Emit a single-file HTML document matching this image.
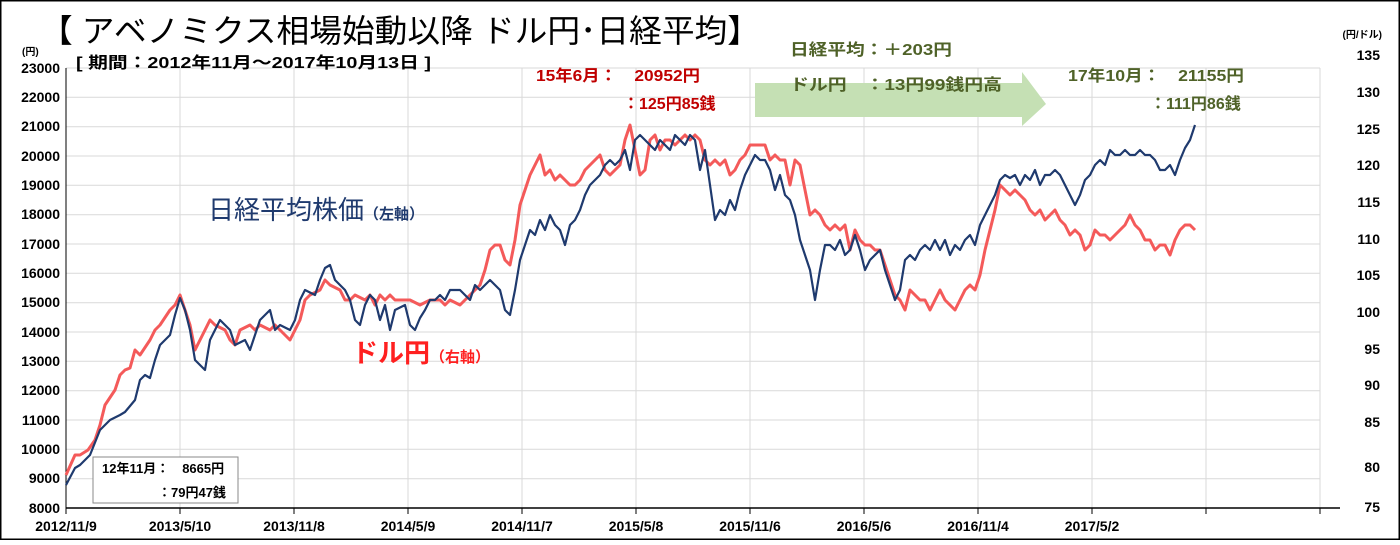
<!DOCTYPE html>
<html><head><meta charset="utf-8"><style>
body{margin:0;background:#fff}
svg text{font-family:"Liberation Sans","Noto Sans CJK JP",sans-serif}
.b{font-weight:bold}
</style></head><body>
<svg width="1400" height="540" viewBox="0 0 1400 540" xmlns="http://www.w3.org/2000/svg">
<rect x="0.5" y="0.5" width="1399" height="539" fill="#fff" stroke="#000" stroke-width="2"/>
<g stroke="#d9d9d9" stroke-width="1">
<line x1="66" y1="68" x2="1320" y2="68"/><line x1="66" y1="97.3" x2="1320" y2="97.3"/><line x1="66" y1="126.7" x2="1320" y2="126.7"/><line x1="66" y1="156" x2="1320" y2="156"/><line x1="66" y1="185.3" x2="1320" y2="185.3"/><line x1="66" y1="214.7" x2="1320" y2="214.7"/><line x1="66" y1="244" x2="1320" y2="244"/><line x1="66" y1="273.3" x2="1320" y2="273.3"/><line x1="66" y1="302.7" x2="1320" y2="302.7"/><line x1="66" y1="332" x2="1320" y2="332"/><line x1="66" y1="361.3" x2="1320" y2="361.3"/><line x1="66" y1="390.7" x2="1320" y2="390.7"/><line x1="66" y1="420" x2="1320" y2="420"/><line x1="66" y1="449.3" x2="1320" y2="449.3"/><line x1="66" y1="478.7" x2="1320" y2="478.7"/>
<line x1="180" y1="68" x2="180" y2="508"/><line x1="294" y1="68" x2="294" y2="508"/><line x1="408" y1="68" x2="408" y2="508"/><line x1="522" y1="68" x2="522" y2="508"/><line x1="636" y1="68" x2="636" y2="508"/><line x1="750" y1="68" x2="750" y2="508"/><line x1="864" y1="68" x2="864" y2="508"/><line x1="978" y1="68" x2="978" y2="508"/><line x1="1092" y1="68" x2="1092" y2="508"/><line x1="1206" y1="68" x2="1206" y2="508"/><line x1="1320" y1="68" x2="1320" y2="508"/>
</g>
<line x1="66" y1="68" x2="66" y2="508" stroke="#000"/>
<line x1="66" y1="508" x2="1340" y2="508" stroke="#000" stroke-width="1.5"/>
<g stroke="#000"><line x1="66" y1="508" x2="66" y2="514"/><line x1="180" y1="508" x2="180" y2="514"/><line x1="294" y1="508" x2="294" y2="514"/><line x1="408" y1="508" x2="408" y2="514"/><line x1="522" y1="508" x2="522" y2="514"/><line x1="636" y1="508" x2="636" y2="514"/><line x1="750" y1="508" x2="750" y2="514"/><line x1="864" y1="508" x2="864" y2="514"/><line x1="978" y1="508" x2="978" y2="514"/><line x1="1092" y1="508" x2="1092" y2="514"/><line x1="1206" y1="508" x2="1206" y2="514"/><line x1="1320" y1="508" x2="1320" y2="514"/></g>
<g class="b" font-size="14" text-anchor="end" fill="#000">
<text x="60" y="73">23000</text><text x="60" y="102">22000</text><text x="60" y="131">21000</text><text x="60" y="161">20000</text><text x="60" y="190">19000</text><text x="60" y="219">18000</text><text x="60" y="249">17000</text><text x="60" y="278">16000</text><text x="60" y="307">15000</text><text x="60" y="337">14000</text><text x="60" y="366">13000</text><text x="60" y="395">12000</text><text x="60" y="425">11000</text><text x="60" y="454">10000</text><text x="60" y="483">9000</text><text x="60" y="513">8000</text>
</g>
<text x="22" y="55" font-size="10" class="b">(円)</text>
<g class="b" font-size="14" text-anchor="end" fill="#000">
<text x="1380" y="60">135</text><text x="1380" y="97">130</text><text x="1380" y="134">125</text><text x="1380" y="170">120</text><text x="1380" y="207">115</text><text x="1380" y="244">110</text><text x="1380" y="280">105</text><text x="1380" y="317">100</text><text x="1380" y="354">95</text><text x="1380" y="390">90</text><text x="1380" y="427">85</text><text x="1380" y="472">80</text><text x="1380" y="512">75</text>
</g>
<text x="1382" y="38" font-size="10" text-anchor="end" class="b">(円/ドル)</text>
<g class="b" font-size="14" text-anchor="middle" fill="#000">
<text x="66" y="531">2012/11/9</text><text x="180" y="531">2013/5/10</text><text x="294" y="531">2013/11/8</text><text x="408" y="531">2014/5/9</text><text x="522" y="531">2014/11/7</text><text x="636" y="531">2015/5/8</text><text x="750" y="531">2015/11/6</text><text x="864" y="531">2016/5/6</text><text x="978" y="531">2016/11/4</text><text x="1092" y="531">2017/5/2</text>
</g>
<text x="40" y="42" font-size="32" fill="#000" textLength="720" lengthAdjust="spacingAndGlyphs">【 アベノミクス相場始動以降 ドル円･日経平均】</text>
<text x="76" y="68" font-size="16" class="b" fill="#000" textLength="355" lengthAdjust="spacingAndGlyphs">[ 期間：2012年11月～2017年10月13日 ]</text>
<polygon points="755,83 1022,83 1022,72 1046,104 1022,126 1022,117 755,117" fill="#c5e0b4"/>
<g font-size="16" fill="#4f6228" class="b">
<text x="790" y="55" textLength="162" lengthAdjust="spacingAndGlyphs">日経平均：＋203円</text><text x="790" y="90" textLength="212" lengthAdjust="spacingAndGlyphs">ドル円　：13円99銭円高</text>
<text x="1068" y="81" textLength="176" lengthAdjust="spacingAndGlyphs">17年10月：　21155円</text><text x="1150" y="109">：111円86銭</text>
</g>
<g font-size="16" fill="#c00000" class="b">
<text x="536" y="81" textLength="164" lengthAdjust="spacingAndGlyphs">15年6月：　20952円</text><text x="623" y="109">：125円85銭</text>
</g>
<text x="208" y="219" font-size="26" fill="#1f3a6e">日経平均株価<tspan font-size="15" class="b">（左軸）</tspan></text>
<text x="352" y="362" font-size="26" fill="#ff2020" class="b">ドル円<tspan font-size="15">（右軸）</tspan></text>
<rect x="93" y="457" width="145" height="46" fill="#fff" stroke="#888"/>
<text x="102" y="473" font-size="13" class="b">12年11月：　8665円</text>
<text x="158" y="497" font-size="13" class="b">：79円47銭</text>
<polyline fill="none" stroke="#f45a5a" stroke-width="3" stroke-linejoin="round" points="66,475 75,455 80,455 88,450 95,440 100,425 105,405 115,390 120,375 125,370 130,368 135,350 140,355 150,340 155,330 160,325 170,310 175,305 180,295 185,310 190,325 195,350 200,340 210,320 215,325 225,330 230,340 235,345 240,330 250,325 255,330 260,325 270,330 275,325 280,330 290,340 300,320 305,300 310,295 320,290 325,280 330,285 340,290 345,300 350,300 355,295 365,300 370,295 375,305 380,295 385,300 390,295 395,300 400,300 410,300 420,305 430,300 440,300 445,305 450,300 460,305 465,300 470,295 475,290 480,285 485,270 490,250 495,245 500,245 505,260 510,265 515,240 520,205 525,190 530,175 535,165 540,155 545,175 550,170 555,180 560,175 565,180 570,185 575,185 580,180 585,170 590,165 595,160 600,155 605,170 610,175 615,170 620,165 625,140 630,125 635,150 640,175 645,170 650,140 655,135 660,150 665,140 670,140 675,145 680,140 685,135 690,140 695,135 700,140 705,160 710,165 715,160 720,165 725,160 730,175 735,170 740,160 745,155 750,145 755,145 760,145 765,145 770,160 775,155 780,160 785,160 790,185 795,160 800,165 805,190 810,215 815,210 820,215 825,225 830,230 835,225 840,230 845,225 850,250 855,230 860,240 865,245 870,245 875,250 880,250 885,265 890,280 895,295 900,300 905,310 910,290 915,295 920,300 925,300 930,310 935,300 940,290 945,300 950,305 955,310 960,300 965,290 970,285 975,290 980,275 985,250 990,230 995,210 1000,185 1005,190 1010,195 1015,190 1020,195 1025,200 1030,210 1035,215 1040,210 1045,220 1050,215 1055,210 1060,220 1065,225 1070,235 1075,230 1080,235 1085,250 1090,245 1095,230 1100,235 1105,235 1110,240 1115,235 1120,230 1125,225 1130,215 1135,225 1140,230 1145,240 1150,240 1155,250 1160,245 1165,245 1170,255 1175,240 1180,230 1185,225 1190,225 1195,230"/>
<polyline fill="none" stroke="#1f3a6e" stroke-width="2.2" stroke-linejoin="round" points="66,485 75,468 80,465 90,455 100,430 110,420 120,415 125,412 135,400 140,380 145,375 150,378 155,360 160,345 170,335 175,315 180,298 185,310 190,330 195,360 205,370 210,340 220,320 230,330 235,345 245,340 250,350 260,320 270,310 275,330 280,325 290,330 295,320 300,300 305,290 315,295 320,280 325,268 330,265 335,280 345,290 350,300 355,320 360,325 365,305 370,295 375,300 380,320 385,305 390,330 395,310 405,305 410,325 415,330 420,318 425,310 430,300 435,300 440,295 445,300 450,290 460,290 470,300 475,285 480,290 490,280 500,290 505,310 510,315 515,290 520,260 525,245 530,230 535,235 540,220 545,230 550,215 555,225 560,230 565,245 570,225 575,220 580,210 585,195 590,185 595,180 600,175 605,165 610,160 615,165 620,160 625,150 630,170 635,140 640,135 650,145 655,150 660,140 665,145 670,150 675,135 680,140 685,145 690,135 695,140 700,170 705,150 710,185 715,220 720,210 725,215 730,200 735,210 740,190 745,175 750,165 755,155 760,160 765,160 770,170 775,190 780,175 785,195 790,200 795,215 800,240 805,255 810,270 815,300 820,270 825,245 830,245 835,250 840,240 845,255 850,250 855,235 860,250 865,270 870,260 875,255 880,250 885,270 890,285 895,300 900,290 905,260 910,255 915,260 920,250 925,245 930,250 935,240 940,250 945,240 950,255 955,245 960,250 965,240 970,235 975,245 980,225 985,215 990,205 995,195 1000,180 1005,175 1010,178 1015,175 1020,185 1025,175 1030,180 1035,170 1040,185 1045,175 1050,175 1055,170 1060,175 1065,185 1070,195 1075,205 1080,195 1085,180 1090,175 1095,165 1100,160 1105,165 1110,150 1115,155 1120,155 1125,150 1130,155 1135,155 1140,150 1145,155 1150,155 1155,160 1160,170 1165,170 1170,165 1175,175 1180,160 1185,148 1190,140 1195,125"/>
</svg>
</body></html>
